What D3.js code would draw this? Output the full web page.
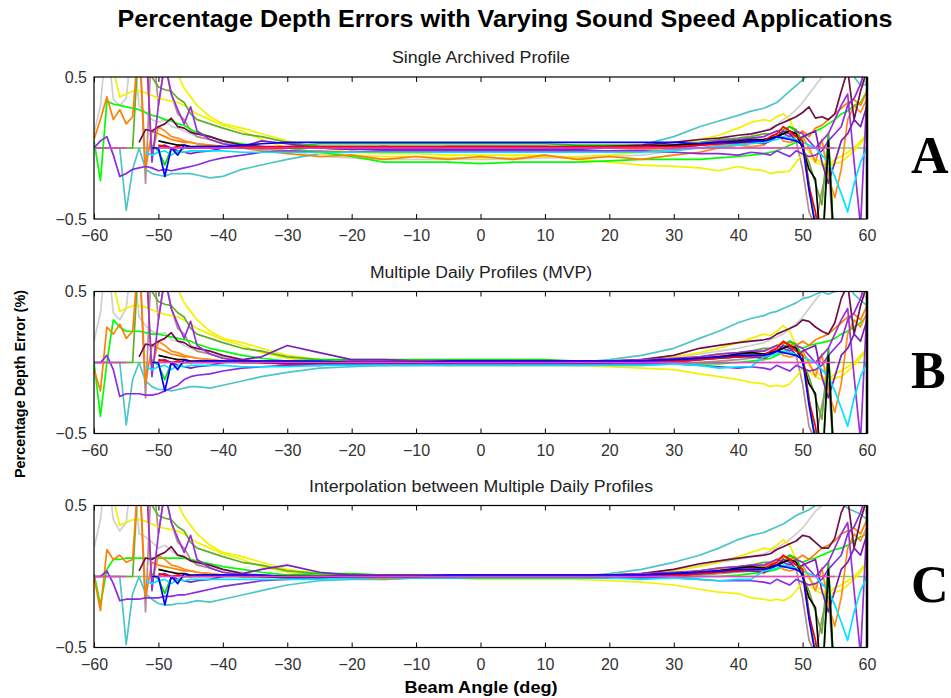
<!DOCTYPE html>
<html><head><meta charset="utf-8">
<script src="https://cdn.jsdelivr.net/npm/d3@7"></script>
<style>body{margin:0;background:#fff}</style>
</head><body><svg id="c" width="951" height="698"></svg>
<script>
const MAIN_TITLE="Percentage Depth Errors with Varying Sound Speed Applications";
const PANEL_TITLES=["Single Archived Profile","Multiple Daily Profiles (MVP)","Interpolation between Multiple Daily Profiles"];
const PANEL_LETTERS=["A","B","C"];
const X_LABEL="Beam Angle (deg)";
const Y_LABEL="Percentage Depth Error (%)";
const X_TICKS=[-60,-50,-40,-30,-20,-10,0,10,20,30,40,50,60];
const Y_TICKS=[-0.5,0.5];
const ANGLES=[-60,-59,-58,-57,-56,-55,-54,-53,-52,-51,-50,-49,-48,-47,-46,-45,-44,
-42,-40,-37,-34,-30,-25,-20,-15,-10,-5,0,5,10,15,20,25,30,34,37,40,42,
44,45,46,47,48,49,50,51,52,53,54,55,56,57,58,59,60];
const SERIES_COLORS=["#86c95a","#cfcfcf","#b58c8c","#4cc6c6","#f2f200","#f2f200","#5fae2e","#00ff00","#00e000","#ff8000","#ff8c1a","#6e0f48","#9a30d8","#8a2be2","#7a1fb8","#00e5ff","#000000","#ff0000","#0000ff","#f03cd8"];

const ZERO_LINE=[0,0,0,0,0,0,0,0,0,0,0,0,0,0,0,0,0,
0,0,0,0,0,0,0,0,0,0,0,0,0,0,0,0,0,0,0,0,0,
0,0,0,0,0,0,0,0,0,0,0,0,0,0,0,0,0];
const MAGENTA_LINE=[0,0,0,0,0,0,null,null,null,null,0,0,0,0,0,0,0,
0,0,0,0,0,0,0,0,0,0,0,0,0,0,0,0,0,0,0,0,0,
0,0,0,0,0,0,0,0,0,0,0,0,null,null,null,null,null];

/* ---------- Panel A ---------- */
const A_gray=[.1,.3,.8,.34,.3,.35,.8,.3,.25,.2,.18,.2,.15,.14,.12,.1,.08,
.06,.04,.02,0,-.02,-.06,-.07,-.08,-.08,-.08,-.08,-.08,-.07,-.07,-.06,-.05,-.02,.02,.05,.07,.09,
.12,.14,.16,.2,.23,.27,.32,.38,.44,.5,.55,.6,.6,.6,.55,.5,.45];
const A_rosy=[.8,.8,.8,.8,.8,.8,.8,.8,-.25,.8,.3,.6,.38,.24,.2,.12,.08,
.06,.03,.01,-.01,-.02,-.02,-.03,-.03,-.03,-.03,-.03,-.03,-.03,-.02,-.02,-.02,-.01,0,.02,.03,.04,
.05,.06,.08,.1,.12,.05,-.15,-.45,-.55,-.3,-.1,-.8,-.8,-.8,-.8,-.8,-.8];
const A_teal=[0,0,0,0,0,-.44,-.15,0,-.15,-.18,-.19,-.2,-.18,-.18,-.18,-.18,-.19,
-.21,-.2,-.15,-.12,-.08,-.04,-.03,-.03,-.02,-.02,-.02,-.01,-.01,0,.01,.02,.08,.15,.19,.23,.26,
.28,.3,.32,.36,.4,.44,.48,.52,.55,.52,.55,.6,.6,.55,.5,.44,.45];
const A_yelA=[.8,.8,.8,.55,.36,.38,.4,.4,.39,.37,.35,.34,.33,.32,.3,.27,.24,
.2,.16,.12,.06,0,-.04,-.05,-.06,-.06,-.07,-.07,-.07,-.06,-.06,-.05,-.03,.01,.06,.09,.14,.18,
.2,.19,.22,.24,.2,.1,.03,-.03,-.08,-.1,-.13,-.08,-.06,-.03,0,.05,.1];
const A_yelB=[.8,.8,.8,.8,.8,.8,.8,.8,.8,.8,.8,.8,.6,.52,.42,.36,.3,
.22,.17,.14,.1,.05,0,-.03,-.04,-.04,-.05,-.05,-.05,-.05,-.08,-.1,-.12,-.13,-.14,-.16,-.13,-.15,
-.16,-.18,-.17,-.17,-.16,-.1,-.04,-.06,-.1,-.12,-.13,-.11,-.1,-.06,-.02,.03,.1];
const A_olive=[0,0,0,0,0,0,0,.8,.6,.5,.43,.41,.4,.35,.32,.24,.2,
.17,.14,.1,.08,.04,.01,0,-.01,0,-.01,-.01,-.01,-.01,0,0,.01,.02,.04,.06,.07,.08,
.1,.1,.12,.13,.15,.13,0,-.1,-.25,-.4,.1,-.8,-.8,-.8,-.8,-.8,-.8];
const A_lime1=[.05,-.23,.33,.31,.3,.29,.28,.27,.25,.23,.22,.2,.19,.17,.16,.13,.11,
.08,.05,.03,.01,0,-.03,-.06,-.1,-.1,-.1,-.11,-.1,-.1,-.1,-.09,-.08,-.08,-.08,-.07,-.06,-.05,
-.04,-.03,-.02,0,.02,.04,.07,.1,.12,.14,.17,.2,.24,.26,.3,.32,.4];
const A_lime2=[null,null,null,null,null,null,null,null,null,.02,-.02,-.12,0,-.03,0,0,.01,
.01,0,0,0,.01,.03,.03,.03,.03,.03,.03,.03,.03,.02,.02,.02,.02,.03,.03,.04,.05,
.06,.07,.08,.1,.15,.12,.05,-.25,-.55,-.8,.1,-.8,-.8,-.8,-.8,-.8,-.8];
const A_or1=[.06,.2,.36,.2,.27,.17,.22,.8,-.15,.12,.1,.08,.06,.05,.04,.04,.03,
.02,.01,0,-.02,-.04,-.06,-.05,-.08,-.06,-.08,-.06,-.08,-.05,-.08,-.06,-.08,-.05,-.03,0,.02,.04,
.05,.06,.08,.12,.1,.08,.12,.08,.14,.16,.2,.24,.28,.32,.34,.3,.4];
const A_or2=[.8,.8,.8,.8,.8,.8,.8,.8,.8,-.05,.15,.12,.08,.07,.05,.04,.03,
.02,.01,0,0,-.02,-.03,-.03,-.02,-.03,-.02,-.03,-.02,-.03,-.02,-.02,-.01,0,.02,.03,.02,.01,
.02,.06,.1,.05,.04,.05,.08,0,-.1,.06,-.2,-.35,-.15,.2,.3,.25,.35];
const A_maroon=[null,null,null,null,null,null,null,.04,.13,.12,.15,.17,.21,.15,.14,.11,.1,
.08,.05,.02,.01,0,0,0,.01,0,.01,.01,.01,.01,0,.01,.02,.04,.06,.07,.09,.1,
.12,.13,.16,.18,.2,.22,.25,.29,.21,.22,.2,.24,.4,.55,.2,.4,.55];
const A_pur1=[.8,.8,.8,.8,.8,.8,.8,.8,.8,-.1,.3,.6,.38,.27,.17,.29,.12,
.06,.03,.01,0,0,0,-.01,0,0,0,0,0,0,0,0,.01,.02,.03,.05,.06,.07,
.08,.1,.12,.1,.08,.12,.1,.05,0,.05,.1,.2,.3,.38,-.1,-.55,.4];
const A_pur2=[0,.05,.08,-.05,-.2,-.18,-.15,-.14,-.13,-.14,-.16,-.15,-.16,-.15,-.14,-.13,-.12,
-.09,-.07,-.05,-.03,-.02,-.03,-.03,-.02,-.02,-.02,-.02,-.02,-.02,-.02,-.02,-.02,-.03,-.04,-.04,-.05,-.03,
-.04,-.05,-.02,-.04,-.06,-.02,-.04,-.06,-.05,-.02,.05,.1,.15,.3,.35,.45,.6];
const A_pur3=[null,null,null,null,null,null,null,null,null,null,.01,.02,0,-.02,-.03,-.04,-.03,
-.02,0,.01,.05,.03,0,-.01,-.01,-.01,-.01,-.01,-.01,-.01,-.01,0,0,0,.02,.03,.04,.04,
.03,.05,.08,.12,.1,.05,.08,.1,.12,-.1,-.25,-.1,.05,.1,.2,.15,.3];
const A_cyan=[null,null,null,null,null,null,null,null,-.03,-.05,-.03,-.02,-.05,-.02,-.03,-.02,-.02,
-.02,-.02,-.03,-.03,-.03,-.03,-.03,-.03,-.03,-.03,-.03,-.03,-.03,-.03,-.03,-.03,-.02,0,.01,.02,.03,
.04,.05,.06,.08,.07,.06,.04,.02,0,-.05,-.1,-.2,-.32,-.45,-.25,-.1,0];
const A_black=[null,null,null,null,null,null,null,null,null,null,.05,.04,.03,.02,.02,.01,.01,
.01,.01,0,0,0,.01,.01,.01,.01,.01,.01,.01,.01,.01,.01,.01,.02,.03,.04,.05,.06,
.06,.07,.08,.1,.12,.1,0,-.15,-.22,-.8,.05,-.8,-.8,-.8,-.8,-.8,-.8];
const A_red=[null,null,null,null,null,null,null,null,null,null,.02,.01,0,.01,0,0,0,
0,0,.01,.01,.01,.01,.01,.01,.01,.01,.01,.01,.01,.01,.01,.01,.01,.02,.03,.04,.05,
.05,.08,.1,.15,.12,.08,.05,-.27,-.45,-.8,-.8,-.8,-.8,-.8,-.8,-.8,-.8];
const A_blue=[null,null,null,null,null,null,null,null,null,0,0,-.2,0,-.05,.02,0,.01,
.01,.01,.02,.03,.04,.04,.04,.04,.04,.04,.04,.04,.04,.04,.04,.04,.04,.03,.04,.04,.05,
.05,.06,.08,.07,.06,.05,.02,-.3,-.55,-.8,-.8,-.8,-.8,-.8,-.8,-.8,-.8];

/* ---------- Panel B ---------- */
const B_gray=[.15,.35,.8,.35,.3,.38,.8,.32,.26,.22,.2,.21,.16,.15,.12,.1,.08,
.06,.04,.02,.01,0,-.01,-.01,-.01,0,0,0,0,0,0,0,.01,.03,.06,.08,.1,.12,
.14,.16,.18,.2,.24,.27,.32,.38,.44,.5,.55,.6,.6,.6,.55,.5,.45];
const B_rosy=[.8,.8,.8,.8,.8,.8,.8,.8,-.25,.8,.3,.6,.38,.24,.2,.12,.08,
.06,.03,.01,0,-.01,-.01,-.02,-.02,-.02,-.02,-.02,-.02,-.02,-.02,-.02,-.02,-.01,0,.01,.02,.03,
.05,.06,.08,.1,.12,.05,-.15,-.45,-.55,-.3,-.1,-.8,-.8,-.8,-.8,-.8,-.8];
const B_teal=[0,0,0,0,0,-.44,-.12,0,-.13,-.17,-.19,-.19,-.2,-.19,-.18,-.17,-.17,
-.18,-.16,-.13,-.1,-.07,-.04,-.03,-.02,-.02,-.01,-.01,-.01,0,0,.02,.05,.1,.17,.22,.28,.31,
.33,.35,.36,.38,.4,.42,.45,.46,.48,.5,.48,.5,.52,.55,.48,.44,.4];
const B_yelA=[.8,.8,.8,.55,.36,.38,.4,.4,.39,.37,.35,.34,.33,.32,.3,.27,.24,
.2,.16,.12,.07,.03,0,0,-.01,0,-.01,0,-.01,0,0,.01,.02,.04,.07,.1,.14,.17,
.2,.19,.22,.26,.22,.12,.05,-.02,-.06,-.1,-.12,-.08,-.06,-.03,0,.05,.1];
const B_yelB=[.8,.8,.8,.8,.8,.8,.8,.8,.8,.8,.8,.8,.6,.52,.42,.36,.3,
.22,.17,.14,.1,.05,.02,0,-.01,-.01,-.02,-.02,-.02,-.02,-.02,-.03,-.04,-.05,-.08,-.1,-.12,-.14,
-.15,-.17,-.16,-.17,-.15,-.1,-.04,-.06,-.1,-.12,-.13,-.11,-.1,-.06,-.02,.03,.1];
const B_olive=[0,0,0,0,0,0,0,.8,.6,.5,.43,.41,.4,.35,.32,.24,.2,
.17,.14,.1,.08,.04,.02,.01,0,0,0,0,0,0,0,0,.01,.02,.04,.06,.07,.08,
.1,.1,.12,.13,.15,.13,0,-.1,-.25,-.4,.1,-.8,-.8,-.8,-.8,-.8,-.8];
const B_lime1=[0,-.38,0,.3,.25,.22,.22,.22,.21,.2,.2,.19,.18,.17,.16,.15,.13,
.1,.08,.05,.03,.01,0,-.01,-.01,-.01,-.01,-.01,-.01,-.01,-.01,-.01,-.01,-.01,-.01,-.01,0,.01,
.02,.03,.05,.07,.1,.12,.1,.12,.13,.14,.15,.17,.2,.22,.25,.28,.33];
const B_lime2=[null,null,null,null,null,null,null,null,null,.02,-.02,-.12,0,-.03,0,0,.01,
.01,0,0,0,.01,.02,.02,.02,.02,.02,.02,.02,.02,.01,.01,.01,.01,.02,.03,.04,.05,
.06,.07,.08,.1,.15,.12,.05,-.25,-.55,-.8,.1,-.8,-.8,-.8,-.8,-.8,-.8];
const B_or1=[-.05,-.2,.25,.2,.27,.17,.22,.8,-.15,.12,.1,.08,.06,.05,.04,.04,.03,
.02,.01,0,0,-.01,-.02,-.01,-.02,-.01,-.02,-.01,-.02,-.01,-.02,-.01,0,.01,.02,.04,.06,.07,
.08,.1,.12,.14,.13,.12,.15,.12,.16,.18,.2,.24,.28,.32,.34,.3,.4];
const B_or2=[.8,.8,.8,.8,.8,.8,.8,.8,.8,-.05,.15,.12,.08,.07,.05,.04,.03,
.02,.01,0,0,-.01,-.01,-.01,0,-.01,0,-.01,0,-.01,0,0,.01,.02,.04,.05,.05,.06,
.02,.06,.1,.05,.04,.05,.08,0,-.1,.06,-.2,-.35,-.15,.2,.3,.25,.35];
const B_maroon=[null,null,null,null,null,null,null,.04,.13,.12,.15,.17,.21,.15,.14,.11,.1,
.08,.05,.02,0,-.01,-.01,-.01,0,0,0,0,0,0,0,.01,.02,.05,.1,.12,.14,.15,
.16,.17,.2,.22,.24,.26,.3,.29,.25,.22,.2,.28,.45,.55,.2,.4,.55];
const B_pur1=[.8,.8,.8,.8,.8,.8,.8,.8,.8,-.1,.3,.6,.38,.27,.17,.29,.12,
.06,.03,.01,0,0,0,.01,.01,.01,.01,.01,.01,.01,.01,.01,.02,.03,.04,.06,.07,.08,
.08,.1,.12,.1,.08,.12,.1,.05,0,.05,.1,.2,.3,.38,-.1,-.55,.4];
const B_pur2=[0,0,.05,-.05,-.24,-.22,-.22,-.22,-.23,-.23,-.22,-.2,-.18,-.16,-.12,-.1,-.09,
-.08,-.06,-.04,-.03,-.02,-.02,-.01,-.01,-.01,-.01,-.01,-.01,-.01,-.01,-.01,-.01,-.01,-.02,-.03,-.04,-.03,
-.04,-.05,-.02,-.04,-.06,-.02,-.04,-.06,-.05,-.02,.05,.1,.15,.3,.35,.45,.6];
const B_pur3=[null,null,null,null,null,null,null,null,null,null,.01,.02,0,-.02,-.03,-.04,-.03,
-.02,0,.02,.04,.12,.07,.02,.02,.01,.01,.01,.01,.01,.01,.01,0,0,.02,.03,.04,.04,
.03,.05,.08,.12,.1,.05,.08,.1,.12,-.1,-.25,-.1,.05,.1,.2,.15,.3];
const B_cyan=[null,null,null,null,null,null,null,null,-.03,-.05,-.03,-.02,-.05,-.02,-.03,-.02,-.02,
-.02,-.02,-.03,-.03,-.03,-.02,-.02,-.02,-.02,-.02,-.02,-.02,-.02,-.02,-.02,-.02,-.01,-.02,-.04,-.03,-.03,
.04,.05,.06,.08,.07,.06,.04,.02,0,-.05,-.1,-.2,-.32,-.45,-.25,-.1,0];
const B_black=[null,null,null,null,null,null,null,null,null,null,.05,.04,.03,.02,.02,.01,.01,
.01,.01,0,0,0,0,0,0,0,0,0,0,0,0,0,.01,.02,.03,.04,.06,.07,
.06,.07,.08,.1,.12,.1,0,-.15,-.22,-.8,.05,-.8,-.8,-.8,-.8,-.8,-.8];
const B_red=[null,null,null,null,null,null,null,null,null,null,.02,.01,0,.01,0,0,0,
0,0,.01,.01,.01,0,0,0,0,.01,.01,.01,.01,.01,.01,.01,.01,.02,.03,.04,.05,
.05,.08,.1,.15,.12,.08,.05,-.27,-.45,-.8,-.8,-.8,-.8,-.8,-.8,-.8,-.8];
const B_blue=[null,null,null,null,null,null,null,null,null,0,0,-.2,0,-.05,.02,0,.01,
.01,.01,.01,.01,.01,.01,0,0,0,.01,.01,.01,.01,.01,.01,.01,.02,.03,.04,.05,.05,
.05,.06,.08,.07,.06,.05,.02,-.3,-.55,-.8,-.8,-.8,-.8,-.8,-.8,-.8,-.8];

/* ---------- Panel C ---------- */
const C_gray=[.2,.4,.8,.4,.32,.38,.8,.3,.28,.24,.2,.22,.18,.15,.13,.11,.09,
.07,.05,.03,.01,0,-.01,-.01,0,0,0,0,0,0,0,.01,.02,.05,.08,.1,.12,.14,
.16,.18,.2,.23,.26,.3,.34,.4,.46,.5,.55,.6,.6,.6,.55,.5,.45];
const C_rosy=[.8,.8,.8,.8,.8,.8,.8,.8,-.25,.8,.3,.6,.38,.24,.2,.12,.08,
.06,.03,.01,0,-.01,-.01,-.01,-.01,-.01,-.01,-.01,-.01,-.01,-.01,-.01,-.01,0,.01,.02,.03,.04,
.05,.06,.08,.1,.12,.05,-.15,-.45,-.55,-.3,-.1,-.8,-.8,-.8,-.8,-.8,-.8];
const C_teal=[0,0,0,0,0,-.48,-.12,0,-.12,-.16,-.19,-.2,-.2,-.19,-.19,-.18,-.17,
-.18,-.16,-.13,-.1,-.06,-.03,-.02,-.02,-.01,-.01,-.01,0,0,0,.02,.05,.1,.15,.2,.26,.29,
.31,.33,.35,.37,.4,.43,.45,.47,.5,.5,.52,.5,.52,.48,.46,.44,.4];
const C_yelA=[.8,.8,.8,.55,.36,.38,.4,.4,.39,.37,.35,.34,.33,.32,.3,.27,.24,
.2,.16,.12,.07,.03,0,0,0,0,-.01,0,-.01,0,0,.01,.02,.04,.07,.1,.14,.17,
.2,.19,.22,.26,.22,.12,.05,-.02,-.06,-.1,-.12,-.08,-.06,-.03,0,.05,.1];
const C_yelB=[.8,.8,.8,.8,.8,.8,.8,.8,.8,.8,.8,.8,.6,.52,.42,.36,.3,
.22,.17,.14,.1,.05,.02,0,-.01,-.01,-.01,-.02,-.02,-.02,-.02,-.03,-.04,-.06,-.09,-.11,-.12,-.15,
-.16,-.17,-.16,-.17,-.15,-.1,-.04,-.06,-.1,-.12,-.13,-.11,-.1,-.06,-.02,.03,.1];
const C_olive=[0,0,0,0,0,0,0,.8,.6,.5,.43,.41,.4,.35,.32,.24,.2,
.17,.14,.1,.08,.04,.02,.01,0,0,0,0,0,0,0,0,.01,.02,.04,.06,.07,.08,
.1,.1,.12,.13,.15,.13,0,-.1,-.25,-.4,.1,-.8,-.8,-.8,-.8,-.8,-.8];
const C_lime1=[.02,-.2,.05,.12,.12,.13,.13,.13,.13,.13,.13,.13,.13,.13,.13,.12,.11,
.09,.07,.05,.03,.01,0,-.01,-.01,-.01,-.01,-.01,-.01,-.01,-.01,-.01,-.01,-.01,0,0,.01,.02,
.03,.04,.05,.07,.09,.12,.1,.12,.13,.15,.17,.19,.2,.22,.25,.28,.3];
const C_lime2=[null,null,null,null,null,null,null,null,null,.02,-.02,-.12,0,-.03,0,0,.01,
.01,0,0,0,.01,.02,.02,.01,.01,.01,.01,.01,.01,.01,.01,.01,.01,.02,.03,.04,.05,
.06,.07,.08,.1,.15,.12,.05,-.25,-.55,-.8,.1,-.8,-.8,-.8,-.8,-.8,-.8];
const C_or1=[0,-.24,.19,.12,.15,.1,.12,.8,-.15,.1,.08,.07,.06,.05,.04,.04,.03,
.02,.01,0,0,-.01,-.01,-.01,-.02,-.01,-.01,-.01,-.01,-.01,-.01,-.01,0,.01,.02,.04,.05,.06,
.07,.09,.12,.14,.13,.12,.15,.12,.16,.2,.22,.25,.3,.32,.34,.3,.4];
const C_or2=[.8,.8,.8,.8,.8,.8,.8,.8,.8,-.05,.15,.12,.08,.07,.05,.04,.03,
.02,.01,0,0,-.01,0,-.01,0,-.01,0,-.01,0,-.01,0,0,.01,.02,.04,.05,.05,.06,
.02,.06,.1,.05,.04,.05,.08,0,-.1,.06,-.2,-.35,-.15,.2,.3,.25,.35];
const C_maroon=[null,null,null,null,null,null,null,.04,.13,.12,.15,.17,.21,.15,.14,.11,.1,
.08,.05,.02,0,-.01,-.01,-.01,0,0,0,0,0,0,0,.01,.02,.05,.09,.11,.13,.14,
.15,.16,.19,.21,.23,.25,.29,.28,.24,.2,.2,.27,.45,.55,.2,.4,.55];
const C_pur1=[.8,.8,.8,.8,.8,.8,.8,.8,.8,-.1,.3,.6,.38,.27,.17,.29,.12,
.06,.03,.01,0,0,0,.01,.01,.01,.01,.01,.01,.01,.01,.01,.02,.03,.04,.06,.07,.08,
.08,.1,.12,.1,.08,.12,.1,.05,0,.05,.1,.2,.3,.38,-.1,-.55,.4];
const C_pur2=[0,0,.04,-.05,-.17,-.16,-.16,-.16,-.15,-.15,-.15,-.14,-.14,-.13,-.13,-.12,-.11,
-.09,-.07,-.05,-.03,-.02,-.01,-.01,-.01,-.01,-.01,-.01,-.01,-.01,-.01,-.01,-.01,-.01,-.02,-.03,-.03,-.03,
-.04,-.05,-.02,-.04,-.06,-.02,-.04,-.06,-.05,-.02,.05,.1,.15,.3,.35,.45,.6];
const C_pur3=[null,null,null,null,null,null,null,null,null,null,.01,.02,0,-.02,-.03,-.04,-.03,
-.02,0,.02,.05,.08,.03,.01,.01,.01,.01,.01,.01,.01,.01,.01,0,0,.02,.03,.04,.04,
.03,.05,.08,.12,.1,.05,.08,.1,.12,-.1,-.25,-.1,.05,.1,.2,.15,.3];
const C_cyan=[null,null,null,null,null,null,null,null,-.03,-.05,-.03,-.02,-.05,-.02,-.03,-.02,-.02,
-.02,-.02,-.02,-.02,-.02,-.02,-.01,-.01,-.01,-.01,-.01,-.01,-.01,-.01,-.01,-.02,-.01,-.02,-.03,-.02,-.02,
.04,.05,.06,.08,.07,.06,.04,.02,0,-.05,-.1,-.2,-.32,-.45,-.25,-.1,0];
const C_black=[null,null,null,null,null,null,null,null,null,null,.05,.04,.03,.02,.02,.01,.01,
.01,.01,0,0,0,0,0,0,0,0,0,0,0,0,0,.01,.02,.03,.04,.06,.07,
.06,.07,.08,.1,.12,.1,0,-.15,-.22,-.8,.05,-.8,-.8,-.8,-.8,-.8,-.8];
const C_red=[null,null,null,null,null,null,null,null,null,null,.02,.01,0,.01,0,0,0,
0,0,.01,.01,0,0,0,0,0,0,.01,.01,.01,.01,.01,.01,.01,.02,.03,.04,.05,
.05,.08,.1,.15,.12,.08,.05,-.27,-.45,-.8,-.8,-.8,-.8,-.8,-.8,-.8,-.8];
const C_blue=[null,null,null,null,null,null,null,null,null,0,0,-.2,0,-.05,.02,0,.01,
.01,.01,.01,.01,0,0,0,0,0,.01,.01,.01,.01,.01,.01,.01,.02,.03,.04,.05,.05,
.05,.06,.08,.07,.06,.05,.02,-.3,-.55,-.8,-.8,-.8,-.8,-.8,-.8,-.8,-.8];

const PANELS=[
 [ZERO_LINE,A_gray,A_rosy,A_teal,A_yelA,A_yelB,A_olive,A_lime1,A_lime2,A_or1,A_or2,A_maroon,A_pur1,A_pur2,A_pur3,A_cyan,A_black,A_red,A_blue,MAGENTA_LINE],
 [ZERO_LINE,B_gray,B_rosy,B_teal,B_yelA,B_yelB,B_olive,B_lime1,B_lime2,B_or1,B_or2,B_maroon,B_pur1,B_pur2,B_pur3,B_cyan,B_black,B_red,B_blue,MAGENTA_LINE],
 [ZERO_LINE,C_gray,C_rosy,C_teal,C_yelA,C_yelB,C_olive,C_lime1,C_lime2,C_or1,C_or2,C_maroon,C_pur1,C_pur2,C_pur3,C_cyan,C_black,C_red,C_blue,MAGENTA_LINE]
];

const SANS="Liberation Sans, Arial, Helvetica, sans-serif";
const SERIF="Liberation Serif, Times New Roman, serif";
const svg=d3.select("#c");
const L=94,R=867,PH=142;
const tops=[77,291.5,505.5];
const subW=[178,222,344];
const x=d3.scaleLinear().domain([-60,60]).range([L,R]);
const fmt=d=>d3.format("")(d);

svg.append("text").attr("x",505).attr("y",27).attr("text-anchor","middle")
  .style("font-family",SANS).attr("font-size",23).attr("font-weight","bold").attr("fill","#000")
  .attr("textLength",775).attr("lengthAdjust","spacingAndGlyphs").text(MAIN_TITLE);

PANELS.forEach((series,i)=>{
  const top=tops[i];
  const y=d3.scaleLinear().domain([-0.5,0.5]).range([top+PH,top]);
  const g=svg.append("g");
  g.append("clipPath").attr("id","clip"+i).append("rect")
    .attr("x",L).attr("y",top).attr("width",R-L).attr("height",PH);
  g.append("text").attr("x",481).attr("y",top-14).attr("text-anchor","middle")
    .style("font-family",SANS).attr("font-size",16).attr("fill","#222")
    .attr("textLength",subW[i]).attr("lengthAdjust","spacingAndGlyphs").text(PANEL_TITLES[i]);
  const line=d3.line().defined(d=>d[1]!==null).x(d=>x(d[0])).y(d=>y(d[1]));
  const lg=g.append("g").attr("clip-path",`url(#clip${i})`);
  series.forEach((vals,k)=>{
    lg.append("path").datum(ANGLES.map((a,j)=>[a,vals[j]]))
      .attr("d",line).attr("fill","none").attr("stroke",SERIES_COLORS[k])
      .attr("stroke-width",1.7).attr("stroke-linejoin","round");
  });
  const xb=g.append("g").attr("transform",`translate(0,${top+PH})`)
    .call(d3.axisBottom(x).tickValues(X_TICKS).tickSize(-5).tickPadding(11).tickFormat(fmt));
  const xt=g.append("g").attr("transform",`translate(0,${top})`)
    .call(d3.axisTop(x).tickValues(X_TICKS).tickSize(-5).tickFormat(""));
  const ya=g.append("g").attr("transform",`translate(${L},0)`)
    .call(d3.axisLeft(y).tickValues(Y_TICKS).tickSize(0).tickPadding(7).tickFormat(fmt));
  [xb,xt,ya].forEach(a=>{a.select(".domain").remove();
    a.selectAll("text").attr("font-size",16).attr("fill","#333").style("font-family",SANS);
    a.selectAll("line").attr("stroke","#000");});
  g.append("rect").attr("x",L).attr("y",top).attr("width",R-L).attr("height",PH)
    .attr("fill","none").attr("stroke","#000").attr("stroke-width",1.2);
  g.append("line").attr("x1",R).attr("x2",R).attr("y1",top).attr("y2",top+PH)
    .attr("stroke","#000").attr("stroke-width",2.5);
  g.append("text").attr("x",911).attr("y",top+PH/2+25).attr("font-size",52)
    .attr("font-weight","bold").style("font-family",SERIF)
    .attr("fill","#000").text(PANEL_LETTERS[i]);
});

svg.append("text").attr("transform","translate(25,384) rotate(-90)").attr("text-anchor","middle")
  .style("font-family",SANS).attr("font-size",14).attr("font-weight","bold").attr("fill","#000")
  .attr("textLength",188).attr("lengthAdjust","spacingAndGlyphs").text(Y_LABEL);
svg.append("text").attr("x",481).attr("y",693).attr("text-anchor","middle")
  .style("font-family",SANS).attr("font-size",16).attr("font-weight","bold").attr("fill","#000")
  .attr("textLength",153).attr("lengthAdjust","spacingAndGlyphs").text(X_LABEL);
</script></body></html>
